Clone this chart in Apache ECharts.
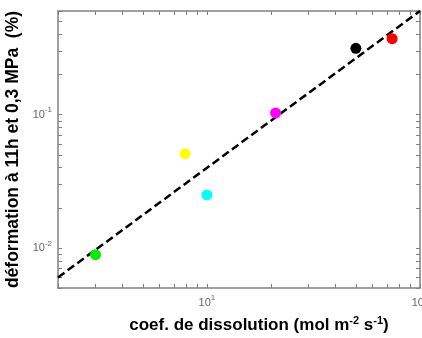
<!DOCTYPE html>
<html>
<head>
<meta charset="utf-8">
<script src="https://cdn.jsdelivr.net/npm/echarts@6/dist/echarts.min.js"></script>
<style>
html, body { margin: 0; padding: 0; background: #fff; }
#chart { width: 422px; height: 338px; }
</style>
</head>
<body>
<div id="chart"></div>
<script>
// points
var dissolution = [3, 7.9, 10, 21, 50, 74];
var deformation = [0.0089, 0.051, 0.025, 0.103, 0.315, 0.372];
var pointColors = ['#00ee00', '#ffff00', '#00ffff', '#ff00ff', '#000000', '#ff0000'];
// fitted line ends
var fitX = [2, 100];
var fitY = [0.006, 0.6];
// tick positions
var xTicks = [2, 3, 4, 5, 6, 7, 8, 9, 10, 20, 30, 40, 50, 60, 70, 80, 90, 100];
var xLabels = [10, 100];
var yTicks = [0.005, 0.006, 0.007, 0.008, 0.009, 0.01, 0.02, 0.03, 0.04, 0.05, 0.06, 0.07, 0.08, 0.09, 0.1, 0.2, 0.3, 0.4, 0.5, 0.6];
var yLabels = [0.01, 0.1];

var font = 'Liberation Sans, Arial, sans-serif';
var frame = { show: true, onZero: false, lineStyle: { color: '#808080', width: 1.5 } };
var tick = { show: true, inside: true, length: 4, lineStyle: { color: '#808080', width: 1 } };

function powLabel(v) {
  var e = Math.round(Math.log10(v));
  return '{b|10}{s|' + e + '}';
}
var labelRich = {
  b: { fontFamily: font, fontSize: 11, color: '#666' },
  s: { fontFamily: font, fontSize: 8, color: '#666', verticalAlign: 'bottom', padding: [0, 0, 9, 0] }
};
function nameRich(size) {
  return {
    b: { fontFamily: font, fontSize: size, fontWeight: 'bold', color: '#000' },
    s: { fontFamily: font, fontSize: 11, fontWeight: 'bold', color: '#000', padding: [0, 0, 10, 0] }
  };
}

var chart = echarts.init(document.getElementById('chart'));

var scatterData = [];
for (var i = 0; i < dissolution.length; i++) {
  scatterData.push({ value: [dissolution[i], deformation[i]], itemStyle: { color: pointColors[i], opacity: 1 } });
}

chart.setOption({
  animation: false,
  grid: { left: 58, right: 2, top: 11, bottom: 50, outerBoundsMode: 'none', containLabel: false },
  xAxis: [
    {
      type: 'log', logBase: 10, min: 2, max: 100, position: 'bottom',
      axisLine: frame,
      axisTick: Object.assign({ customValues: xTicks }, tick),
      axisLabel: { customValues: xLabels, formatter: powLabel, rich: labelRich, margin: 6 },
      splitLine: { show: false },
      name: '{b|coef. de dissolution (mol m}{s|-2}{b| s}{s|-1}{b|)}',
      nameLocation: 'middle', nameGap: 27,
      nameTextStyle: { rich: nameRich(17), padding: [0, 0, 0, 40] }
    },
    {
      type: 'log', logBase: 10, min: 2, max: 100, position: 'top',
      axisLine: frame,
      axisTick: Object.assign({ customValues: xTicks }, tick),
      axisLabel: { show: false },
      splitLine: { show: false }
    }
  ],
  yAxis: [
    {
      type: 'log', logBase: 10, min: 0.005, max: 0.6, position: 'left',
      axisLine: frame,
      axisTick: Object.assign({ customValues: yTicks }, tick),
      axisLabel: { customValues: yLabels, formatter: powLabel, rich: labelRich, margin: 6 },
      splitLine: { show: false },
      name: '{b|déformation à 11h et 0,3 MPa  (%)}',
      nameLocation: 'middle', nameGap: 23,
      nameTextStyle: { rich: nameRich(17.5) }
    },
    {
      type: 'log', logBase: 10, min: 0.005, max: 0.6, position: 'right',
      axisLine: frame,
      axisTick: Object.assign({ customValues: yTicks }, tick),
      axisLabel: { show: false },
      splitLine: { show: false }
    }
  ],
  series: [
    {
      type: 'line',
      data: [[fitX[0], fitY[0]], [fitX[1], fitY[1]]],
      symbol: 'none',
      lineStyle: { color: '#000', width: 2.5, type: [8, 4] },
      z: 2
    },
    {
      type: 'scatter',
      data: scatterData,
      symbolSize: 11,
      z: 3
    }
  ]
});
</script>
</body>
</html>
